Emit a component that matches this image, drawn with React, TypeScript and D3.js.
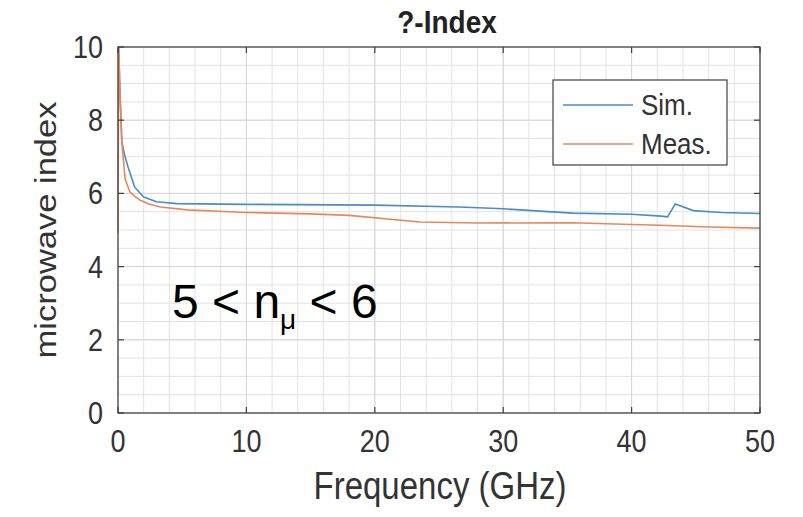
import React from 'react';
import * as d3 from 'd3';

// values (GHz, index)
const simFreq = [0.05, 0.15, 0.3, 0.55, 0.8, 1.3, 2.0, 3.0, 4.6, 10, 20, 26.6, 30, 35.4, 40, 42.3, 42.8, 43.4, 44.8, 47, 50];
const simIndex = [10, 8.8, 7.4, 7.0, 6.7, 6.17, 5.9, 5.77, 5.72, 5.7, 5.68, 5.63, 5.58, 5.46, 5.43, 5.38, 5.36, 5.71, 5.53, 5.48, 5.45];

const measFreq = [0, 0.05, 0.15, 0.3, 0.55, 0.93, 1.3, 1.7, 2.4, 3.3, 5.4, 10, 15, 18, 23.5, 28, 35.4, 40, 42.2, 46, 50];
const measIndex = [4.9, 10, 8.8, 7.4, 6.4, 6.04, 5.92, 5.82, 5.71, 5.63, 5.55, 5.48, 5.44, 5.4, 5.22, 5.19, 5.2, 5.15, 5.13, 5.08, 5.05];

const xTicks = [0, 10, 20, 30, 40, 50];
const yTicks = [0, 2, 4, 6, 8, 10];

const W = 803;
const H = 517;
const m = { left: 118, right: 760, top: 47, bottom: 413 };
const font = 'Liberation Sans, Arial, Helvetica, sans-serif';
const stretch = 1.15; // text in the picture is a bit taller than it is wide

function Txt(props: { x: number; y: number; size: number; anchor?: string; bold?: boolean; rotate?: number; fill?: string; children: React.ReactNode }) {
  const { x, y, size, anchor, bold, rotate, fill, children } = props;
  // the picture is stretched vertically, so rotated text gets longer, not taller
  const tf = rotate
    ? `translate(${x},${y}) rotate(${rotate}) scale(${stretch},1)`
    : `translate(${x},${y}) scale(1,${stretch})`;
  return (
    <g transform={tf}>
      <text x={0} y={0} textAnchor={anchor || 'start'} fontFamily={font} fontSize={size}
        fontWeight={bold ? 'bold' : 'normal'} fill={fill || '#333'}>{children}</text>
    </g>
  );
}

export default function App() {
  const x = d3.scaleLinear().domain([0, 50]).range([m.left, m.right]);
  const y = d3.scaleLinear().domain([0, 10]).range([m.bottom, m.top]);

  const line = d3.line<[number, number]>()
    .x(d => x(d[0]))
    .y(d => y(d[1]));

  const sim = simFreq.map((f, i) => [f, simIndex[i]] as [number, number]);
  const meas = measFreq.map((f, i) => [f, measIndex[i]] as [number, number]);

  // minor grid: every 2 GHz, every 0.5 index
  const xGrid = d3.range(0, 50.001, 2);
  const yGrid = d3.range(0, 10.001, 0.5);

  const tickLen = 6;
  const axisColor = '#404040';

  return (
    <div style={{ position: 'absolute', left: 0, top: 0 }}>
      <svg width={W} height={H} style={{ display: 'block', background: '#fff' }}>
        {/* grid */}
        <g stroke="#e3e3e3" strokeWidth={1}>
          {xGrid.map(v => (
            <line key={'gx' + v} x1={x(v)} x2={x(v)} y1={m.top} y2={m.bottom} />
          ))}
          {yGrid.map(v => (
            <line key={'gy' + v} x1={m.left} x2={m.right} y1={y(v)} y2={y(v)} />
          ))}
        </g>
        <g stroke="#d6d6d6" strokeWidth={1}>
          {xTicks.map(v => (
            <line key={'mx' + v} x1={x(v)} x2={x(v)} y1={m.top} y2={m.bottom} />
          ))}
          {yTicks.map(v => (
            <line key={'my' + v} x1={m.left} x2={m.right} y1={y(v)} y2={y(v)} />
          ))}
        </g>

        {/* data */}
        <path d={line(sim) || ''} fill="none" stroke="#4a8ccb" strokeWidth={1.6} />
        <path d={line(meas) || ''} fill="none" stroke="#e8885a" strokeWidth={1.6} />

        {/* box and ticks */}
        <rect x={m.left} y={m.top} width={m.right - m.left} height={m.bottom - m.top}
          fill="none" stroke={axisColor} strokeWidth={1.2} />
        <g stroke={axisColor} strokeWidth={1.2}>
          {xTicks.map(v => (
            <g key={'tx' + v}>
              <line x1={x(v)} x2={x(v)} y1={m.bottom} y2={m.bottom - tickLen} />
              <line x1={x(v)} x2={x(v)} y1={m.top} y2={m.top + tickLen} />
            </g>
          ))}
          {yTicks.map(v => (
            <g key={'ty' + v}>
              <line x1={m.left} x2={m.left + tickLen} y1={y(v)} y2={y(v)} />
              <line x1={m.right} x2={m.right - tickLen} y1={y(v)} y2={y(v)} />
            </g>
          ))}
        </g>

        {/* tick labels */}
        {xTicks.map(v => (
          <Txt key={'lx' + v} x={x(v)} y={m.bottom + 39} size={27} anchor="middle">{v}</Txt>
        ))}
        {yTicks.map(v => (
          <Txt key={'ly' + v} x={m.left - 15} y={y(v) + 11} size={27} anchor="end">{v}</Txt>
        ))}

        {/* titles */}
        <Txt x={447} y={33} size={28} anchor="middle" bold fill="#222">?-Index</Txt>
        <Txt x={440} y={499} size={33} anchor="middle">Frequency (GHz)</Txt>
        <Txt x={56} y={(m.top + m.bottom) / 2} size={30} anchor="middle" rotate={-90}>microwave index</Txt>

        {/* annotation */}
        <text x={172} y={318} fontFamily={font} fontSize={48} fill="#000">
          5 &lt; n<tspan fontSize={28} dy={11}>μ</tspan><tspan dy={-11}> &lt; 6</tspan>
        </text>

        {/* legend */}
        <rect x={553} y={80} width={174} height={85} fill="#fff" stroke={axisColor} strokeWidth={1.2} />
        <line x1={563} x2={633} y1={105} y2={105} stroke="#4a8ccb" strokeWidth={1.6} />
        <line x1={563} x2={633} y1={144} y2={144} stroke="#e8885a" strokeWidth={1.6} />
        <Txt x={641} y={115} size={26}>Sim.</Txt>
        <Txt x={641} y={154} size={26}>Meas.</Txt>
      </svg>
    </div>
  );
}
